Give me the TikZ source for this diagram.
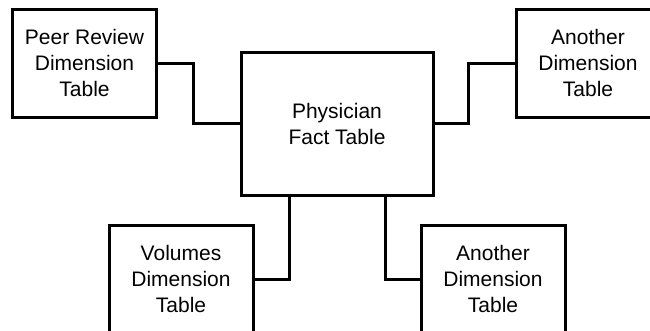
\documentclass[tikz,border=0pt]{standalone}
\usepackage{fontspec}
\setmainfont{Liberation Sans}
\begin{document}
\begin{tikzpicture}[x=1pt,y=-1pt,
  tbl/.style={draw=black, line width=3pt, fill=white, align=center,
    inner sep=0pt, outer sep=0pt,
    font=\fontsize{21}{26}\selectfont},
  dimbox/.style={tbl, minimum width=144pt, minimum height=108pt},
  link/.style={draw=black, line width=3pt, line cap=rect}]
\path[use as bounding box, clip] (0,0) rectangle (650,330);
\fill[white] (0,0) rectangle (650,330);
\node[tbl, minimum width=192pt, minimum height=143pt] (fact) at (337,123.5) {Physician\\Fact Table};
\node[dimbox] (peer) at (84.5,63) {Peer Review\\Dimension\\Table};
\node[dimbox] (ad1) at (588,63) {Another\\Dimension\\Table};
\node[dimbox] (vol) at (181,279) {Volumes\\Dimension\\Table};
\node[dimbox] (ad2) at (493,279) {Another\\Dimension\\Table};
\draw[link] (peer.east) -- ++(36.5,0) |- (fact.west);
\draw[link] (fact.east) -- ++(35,0) |- (ad1.west);
\draw[link] ([xshift=-48pt]fact.south) |- (vol.east);
\draw[link] ([xshift=48pt]fact.south) |- (ad2.west);
\end{tikzpicture}
\end{document}
